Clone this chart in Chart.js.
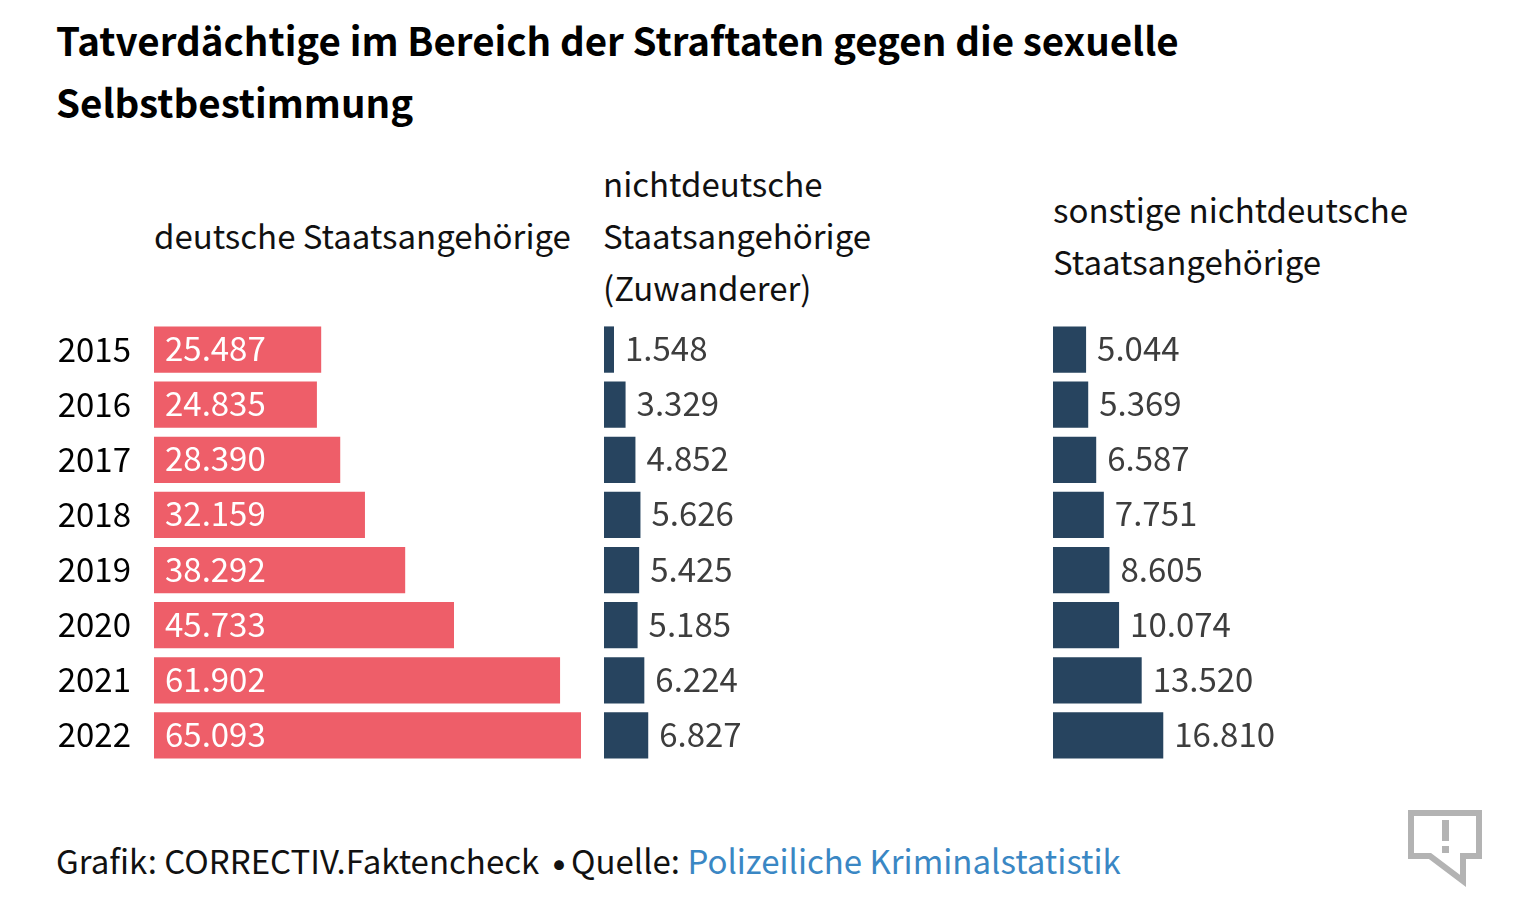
<!DOCTYPE html>
<html lang="de">
<head>
<meta charset="utf-8">
<title>Tatverdächtige</title>
<script src="https://cdn.jsdelivr.net/npm/chart.js@4"></script>
<style>
    body { margin: 0; background: #fff; font-family: "Noto Sans CJK SC", "Noto Sans", sans-serif; color: #000; }
    .txt { position: absolute; white-space: nowrap; line-height: 1; }
    .title { left: 56px; font-size: 38.5px; font-weight: 700; }
    .head { font-size: 33px; color: #111; }
    .foot { top: 844px; font-size: 33px; color: #111; }
    .foot a { color: #3a87c4; text-decoration: none; }
    .dot { left: 536px; top: 839px; font-size: 46px; color: #111; }
    .wrap { position: absolute; top: 322px; height: 441px; }
    svg { position: absolute; left: 0; top: 0; }
</style>
</head>
<body>
<div class="txt title" style="top:20px">Tatverdächtige im Bereich der Straftaten gegen die sexuelle</div>
<div class="txt title" style="top:82px">Selbstbestimmung</div>

<div class="txt head" style="left:154px;top:219px">deutsche Staatsangehörige</div>
<div class="txt head" style="left:603px;top:167px">nichtdeutsche</div>
<div class="txt head" style="left:603px;top:219px">Staatsangehörige</div>
<div class="txt head" style="left:603px;top:271px">(Zuwanderer)</div>
<div class="txt head" style="left:1053px;top:193px">sonstige nichtdeutsche</div>
<div class="txt head" style="left:1053px;top:245px">Staatsangehörige</div>

<div class="wrap" style="left:50px;width:531px"><canvas id="chartGerman"></canvas></div>
<div class="wrap" style="left:604px;width:400px"><canvas id="chartImmigrant"></canvas></div>
<div class="wrap" style="left:1053px;width:400px"><canvas id="chartOther"></canvas></div>

<div class="txt foot" style="left:56px">Grafik: CORRECTIV.Faktencheck</div>
<div class="txt dot">•</div>
<div class="txt foot" style="left:571px">Quelle: <a href="#">Polizeiliche Kriminalstatistik</a></div>

<svg width="1538" height="918">
    <path d="M1411 813 H1479 V856 H1463 V881 L1430 856 H1411 Z" fill="none" stroke="#b3b3b3" stroke-width="6"/>
    <rect x="1442" y="820" width="7" height="21" fill="#b3b3b3"/>
    <rect x="1442" y="846" width="7" height="7" fill="#b3b3b3"/>
</svg>

<script>
// Data
const years = ['2015', '2016', '2017', '2018', '2019', '2020', '2021', '2022'];
const germanData = [25487, 24835, 28390, 32159, 38292, 45733, 61902, 65093];
const immigrantData = [1548, 3329, 4852, 5626, 5425, 5185, 6224, 6827];
const otherData = [5044, 5369, 6587, 7751, 8605, 10074, 13520, 16810];

const pxPerUnit = 427 / 65093;
const immigrantPxPerUnit = 0.00648; // middle panel is a touch narrower in the original
const fontFamily = '"Noto Sans CJK SC", "Noto Sans", sans-serif';
const fontSize = 33;

// German number format, 25487 -> 25.487
function formatValue(v) {
    return v.toLocaleString('de-DE');
}

// Draws the value next to or inside each bar
const valueLabels = {
    id: 'valueLabels',
    afterDatasetsDraw(chart, args, opts) {
        const c = chart.ctx;
        c.save();
        c.font = fontSize + 'px ' + fontFamily;
        c.textBaseline = 'middle';
        c.fillStyle = opts.color;
        chart.getDatasetMeta(0).data.forEach((bar, i) => {
            const v = chart.data.datasets[0].data[i];
            const x = opts.inside ? bar.base + 11 : bar.x + 11;
            c.fillText(formatValue(v), x, bar.y - 1);
        });
        c.restore();
    }
};

function makeChart(id, values, color, xMax, opts) {
    return new Chart(document.getElementById(id), {
        type: 'bar',
        data: {
            labels: years,
            datasets: [{
                data: values,
                backgroundColor: color,
                categoryPercentage: 1,
                barPercentage: 0.84,
            }]
        },
        options: {
            indexAxis: 'y',
            animation: false,
            responsive: true,
            maintainAspectRatio: false,
            layout: { padding: 0 },
            plugins: {
                legend: { display: false },
                tooltip: { enabled: false },
                valueLabels: opts.labels,
            },
            scales: {
                x: {
                    display: false,
                    min: 0,
                    max: xMax,
                },
                y: {
                    display: opts.showYears,
                    afterFit(axis) {
                        // year labels sit in a fixed gutter, no extra space above and below
                        axis.width = opts.showYears ? 104 : 0;
                        axis.paddingTop = 0;
                        axis.paddingBottom = 0;
                    },
                    grid: { display: false },
                    border: { display: false },
                    ticks: {
                        color: '#000',
                        padding: 15,
                        labelOffset: -0.5,
                        font: { family: fontFamily, size: fontSize },
                    },
                },
            },
        },
        plugins: [valueLabels],
    });
}

makeChart('chartGerman', germanData, '#ee5e69', 427 / pxPerUnit, { showYears: true, labels: { color: '#fff', inside: true } });
makeChart('chartImmigrant', immigrantData, '#27445f', 400 / immigrantPxPerUnit, { showYears: false, labels: { color: '#3d3d3d', inside: false } });
makeChart('chartOther', otherData, '#27445f', 400 / pxPerUnit, { showYears: false, labels: { color: '#3d3d3d', inside: false } });
</script>
</body>
</html>
